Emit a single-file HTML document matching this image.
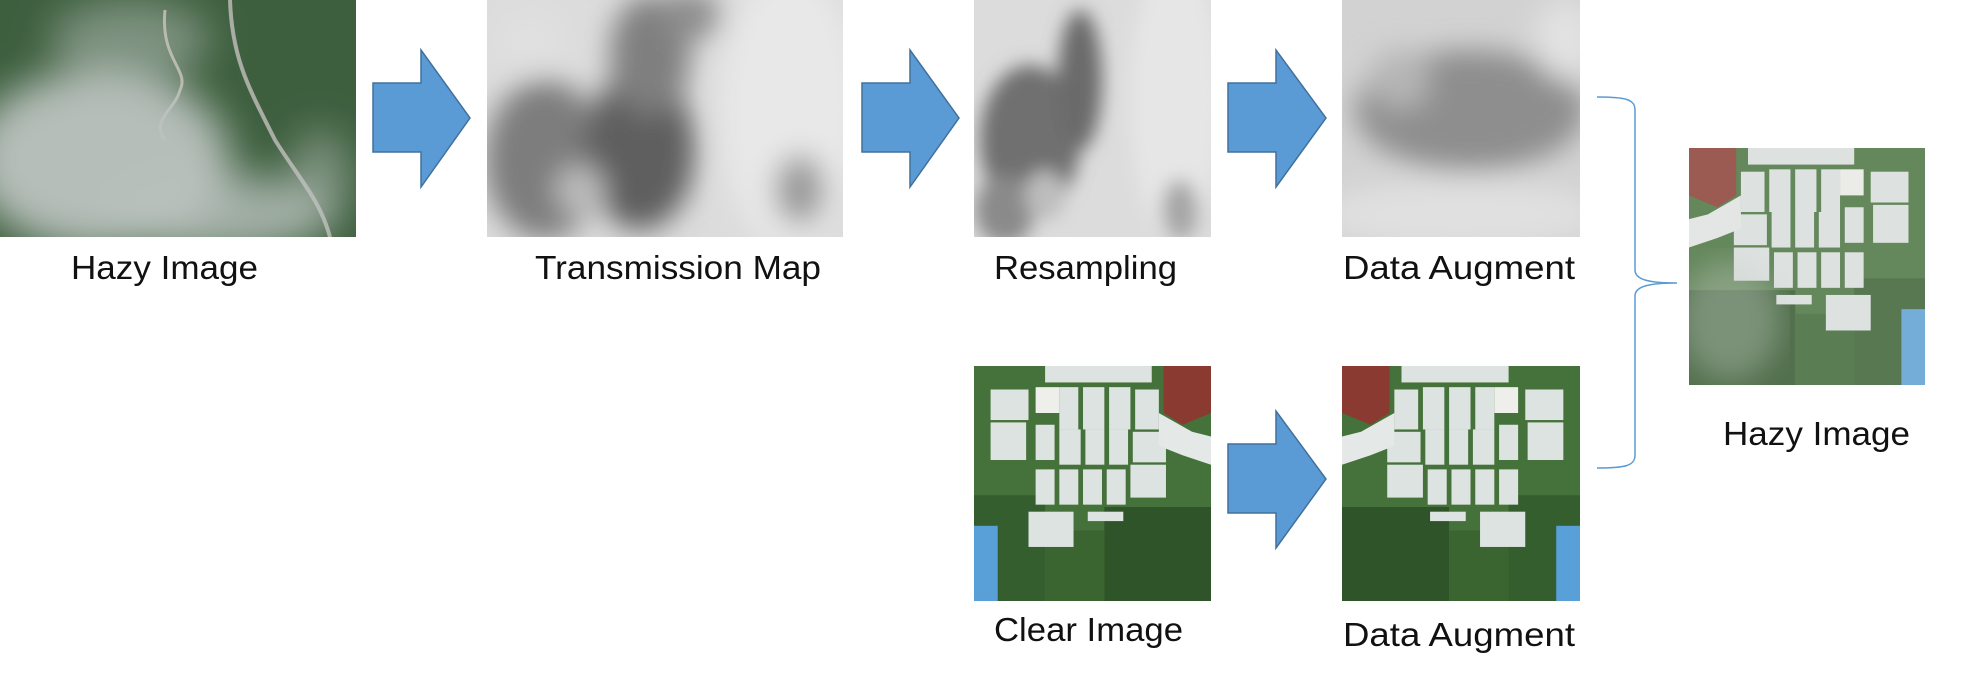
<!DOCTYPE html>
<html><head><meta charset="utf-8"><style>
html,body{margin:0;padding:0;background:#fff;}
svg{display:block;}
text{font-family:"Liberation Sans",sans-serif;font-size:33px;fill:#111;}
</style></head><body>
<svg width="1978" height="677" viewBox="0 0 1978 677" xmlns="http://www.w3.org/2000/svg">
<defs>
<filter id="blur8"><feGaussianBlur stdDeviation="9"/></filter>
<filter id="blur14"><feGaussianBlur stdDeviation="14"/></filter>
<filter id="blur20"><feGaussianBlur stdDeviation="20"/></filter>
<clipPath id="c1"><rect x="0" y="0" width="356" height="237"/></clipPath>
<clipPath id="c2"><rect x="487" y="0" width="356" height="237"/></clipPath>
<clipPath id="c3"><rect x="974" y="0" width="237" height="237"/></clipPath>
<clipPath id="c4"><rect x="1342" y="0" width="238" height="237"/></clipPath>
<clipPath id="c5"><rect x="1689" y="148" width="236" height="237"/></clipPath>
<clipPath id="ca"><rect x="0" y="0" width="100" height="100"/></clipPath>
<g id="aerial">
 <g clip-path="url(#ca)">
 <rect x="0" y="0" width="100" height="100" fill="#45713a"/>
 <rect x="0" y="55" width="30" height="45" fill="#355e2e"/>
 <rect x="55" y="60" width="45" height="40" fill="#2f5429"/>
 <rect x="30" y="70" width="25" height="30" fill="#3a6530"/>
 <rect x="0" y="68" width="10" height="32" fill="#5aa0d8"/>
 <g fill="#dce3e0">
  <rect x="7" y="10" width="16" height="13"/><rect x="26" y="9" width="10" height="11" fill="#eeeeea"/>
  <rect x="36" y="9" width="8" height="18"/><rect x="46" y="9" width="9" height="18"/><rect x="57" y="9" width="9" height="18"/><rect x="68" y="10" width="10" height="17"/>
  <rect x="7" y="24" width="15" height="16"/>
  <rect x="26" y="25" width="8" height="15"/><rect x="36" y="27" width="9" height="15"/><rect x="47" y="27" width="8" height="15"/><rect x="57" y="27" width="8" height="15"/><rect x="67" y="28" width="14" height="13"/>
  <rect x="26" y="44" width="8" height="15"/><rect x="36" y="44" width="8" height="15"/><rect x="46" y="44" width="8" height="15"/><rect x="56" y="44" width="8" height="15"/><rect x="66" y="42" width="15" height="14"/>
  <rect x="23" y="62" width="19" height="15"/><rect x="48" y="62" width="15" height="4"/>
  <rect x="30" y="0" width="45" height="7"/>
 </g>
 <path d="M80 0 L100 0 L100 20 L88 25 L80 20 Z" fill="#8a3a30"/>
 <path d="M78 20 L92 28 L100 30 L100 42 L88 38 L78 34 Z" fill="#e4e8e6"/>
 </g>
</g>
</defs>

<!-- Hazy image -->
<g clip-path="url(#c1)">
 <rect x="0" y="0" width="356" height="237" fill="#3d5f3e"/>
 <path d="M230 0 C232 60 250 90 275 140 C300 180 320 200 330 237" stroke="#a9aca4" stroke-width="4" fill="none"/>
 <path d="M165 10 C160 60 190 70 180 90 C175 110 150 120 165 140" stroke="#b8b2a2" stroke-width="3" fill="none"/>
 <g filter="url(#blur20)" fill="#bcc3bf">
  <ellipse cx="100" cy="160" rx="130" ry="90" opacity="0.95"/>
  <ellipse cx="220" cy="215" rx="110" ry="40" opacity="0.8"/>
  <ellipse cx="130" cy="40" rx="80" ry="40" opacity="0.5"/>
  <ellipse cx="320" cy="180" rx="30" ry="50" opacity="0.5"/>
 </g>
</g>

<!-- Transmission map -->
<g clip-path="url(#c2)">
 <rect x="487" y="0" width="356" height="237" fill="#dcdcdc"/>
 <g filter="url(#blur14)">
  <ellipse cx="790" cy="110" rx="70" ry="140" fill="#e8e8e8"/>
  <ellipse cx="545" cy="160" rx="60" ry="80" fill="#7d7d7d"/>
  <ellipse cx="640" cy="150" rx="55" ry="80" fill="#5e5e5e"/>
  <ellipse cx="650" cy="55" rx="40" ry="60" fill="#7f7f7f"/>
  <ellipse cx="690" cy="15" rx="30" ry="25" fill="#8c8c8c"/>
  <ellipse cx="580" cy="190" rx="25" ry="25" fill="#bdbdbd"/>
  <ellipse cx="800" cy="190" rx="25" ry="35" fill="#9a9a9a"/>
  <ellipse cx="530" cy="40" rx="35" ry="30" fill="#e0e0e0"/>
 </g>
</g>

<!-- Resampling -->
<g clip-path="url(#c3)">
 <rect x="974" y="0" width="237" height="237" fill="#dcdcdc"/>
 <g filter="url(#blur8)">
  <ellipse cx="1175" cy="100" rx="45" ry="140" fill="#e6e6e6"/>
  <ellipse cx="1030" cy="140" rx="50" ry="75" fill="#707070"/>
  <ellipse cx="1080" cy="80" rx="22" ry="70" fill="#6a6a6a"/>
  <ellipse cx="1005" cy="210" rx="30" ry="35" fill="#8a8a8a"/>
  <ellipse cx="1045" cy="195" rx="20" ry="25" fill="#bdbdbd"/>
  <ellipse cx="1180" cy="210" rx="18" ry="30" fill="#a5a5a5"/>
 </g>
</g>

<!-- Data augment top -->
<g clip-path="url(#c4)">
 <rect x="1342" y="0" width="238" height="237" fill="#d2d2d2"/>
 <g filter="url(#blur14)">
  <ellipse cx="1470" cy="110" rx="115" ry="60" fill="#8e8e8e"/>
  <ellipse cx="1400" cy="80" rx="30" ry="30" fill="#b5b5b5"/>
  <ellipse cx="1565" cy="40" rx="30" ry="40" fill="#e2e2e2"/>
  <ellipse cx="1460" cy="215" rx="140" ry="35" fill="#e0e0e0"/>
 </g>
</g>

<!-- Arrows -->
<g fill="#5b9bd5" stroke="#41719c" stroke-width="1.5">
 <path d="M373 83 H421 V50 L470 118 L421 187 V152 H373 Z"/>
 <path d="M862 83 H910 V50 L959 118 L910 187 V152 H862 Z"/>
 <path d="M1228 83 H1276 V50 L1326 118 L1276 187 V152 H1228 Z"/>
 <path d="M1228 444 H1276 V411 L1326 479 L1276 548 V513 H1228 Z"/>
</g>

<!-- Clear image + bottom data augment -->
<use href="#aerial" transform="translate(974,366) scale(2.37,2.35)"/>
<use href="#aerial" transform="translate(1580,366) scale(-2.38,2.35)"/>

<!-- Output hazy image -->
<g clip-path="url(#c5)">
 <use href="#aerial" transform="translate(1925,148) scale(-2.36,2.37)"/>
 <rect x="1689" y="148" width="236" height="237" fill="#dfe3e0" opacity="0.2"/>
 <ellipse cx="1730" cy="320" rx="50" ry="60" fill="#c9cfca" opacity="0.35" filter="url(#blur14)"/>
</g>

<!-- Brace -->
<path d="M1597 97 C1625 97 1635 99 1635 110 V270 C1635 280 1650 283 1677 283 C1650 283 1635 286 1635 296 V455 C1635 466 1625 468 1597 468" fill="none" stroke="#5b9bd5" stroke-width="1.5"/>

<!-- Labels -->
<text x="71" y="279" textLength="187" lengthAdjust="spacingAndGlyphs">Hazy Image</text>
<text x="535" y="279" textLength="286" lengthAdjust="spacingAndGlyphs">Transmission Map</text>
<text x="994" y="279" textLength="183" lengthAdjust="spacingAndGlyphs">Resampling</text>
<text x="1343" y="279" textLength="232" lengthAdjust="spacingAndGlyphs">Data Augment</text>
<text x="994" y="641" textLength="189" lengthAdjust="spacingAndGlyphs">Clear Image</text>
<text x="1343" y="646" textLength="232" lengthAdjust="spacingAndGlyphs">Data Augment</text>
<text x="1723" y="445" textLength="187" lengthAdjust="spacingAndGlyphs">Hazy Image</text>
</svg>
</body></html>
